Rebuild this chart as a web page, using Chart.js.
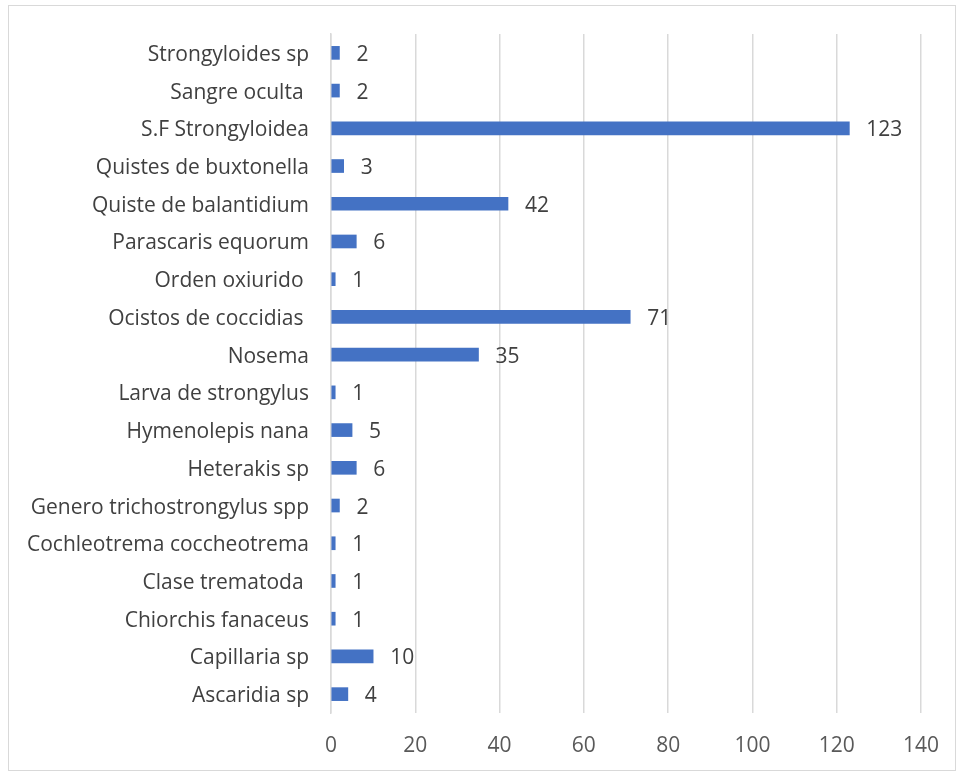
<!DOCTYPE html>
<html lang="es">
<head>
<meta charset="UTF-8">
<title>Parásitos</title>
<script src="https://cdn.jsdelivr.net/npm/chart.js"></script>
<style>
    body { margin: 0; background: #fff; }
    .frame {
        position: absolute;
        left: 8px;
        top: 5px;
        width: 946px;
        height: 764px;
        border: 1px solid #d9d9d9;
    }
</style>
</head>
<body>
<div class="frame"><canvas id="chart"></canvas></div>
<script>
    // de arriba hacia abajo, como en el gráfico
    const categorias = [
        'Strongyloides sp', 'Sangre oculta ', 'S.F Strongyloidea', 'Quistes de buxtonella',
        'Quiste de balantidium', 'Parascaris equorum', 'Orden oxiurido ', 'Ocistos de coccidias ',
        'Nosema', 'Larva de strongylus', 'Hymenolepis nana', 'Heterakis sp',
        'Genero trichostrongylus spp', 'Cochleotrema coccheotrema', 'Clase trematoda ',
        'Chiorchis fanaceus', 'Capillaria sp', 'Ascaridia sp'
    ];
    const valores = [2, 2, 123, 3, 42, 6, 1, 71, 35, 1, 5, 6, 2, 1, 1, 1, 10, 4];
    const ticksX = [0, 20, 40, 60, 80, 100, 120, 140];

    const fuente = '"Open Sans", sans-serif';

    const etiquetas = {
        id: 'etiquetas',
        afterDatasetsDraw(chart) {
            const ctx = chart.ctx;
            const meta = chart.getDatasetMeta(0);
            ctx.save();
            ctx.font = '21px ' + fuente;
            ctx.fillStyle = '#404040';
            ctx.textAlign = 'left';
            ctx.textBaseline = 'middle';
            meta.data.forEach((bar, i) => {
                ctx.fillText(String(valores[i]), bar.x + 17, bar.y + 2);
            });
            ctx.restore();
        }
    };

    new Chart(document.getElementById('chart'), {
        type: 'bar',
        data: {
            labels: categorias,
            datasets: [{
                data: valores,
                backgroundColor: '#4472c4',
                barThickness: 13
            }]
        },
        options: {
            indexAxis: 'y',
            responsive: true,
            maintainAspectRatio: false,
            animation: false,
            layout: { padding: { left: 0, top: 28, right: 34, bottom: 0 } },
            plugins: {
                legend: { display: false },
                tooltip: { enabled: false }
            },
            scales: {
                x: {
                    min: 0,
                    max: 140,
                    afterBuildTicks: (axis) => { axis.ticks = ticksX.map(v => ({ value: v })); },
                    afterFit: (axis) => {
                        axis.height = 57;
                        axis.paddingLeft = 0;
                        axis.paddingRight = 0;
                    },
                    grid: { color: '#d9d9d9', lineWidth: 1.5, drawTicks: false },
                    border: { display: false },
                    ticks: { color: '#595959', font: { family: fuente, size: 21 }, padding: 20 }
                },
                y: {
                    afterFit: (axis) => {
                        axis.width = 322;
                        axis.paddingTop = 0;
                        axis.paddingBottom = 0;
                    },
                    grid: { display: false, drawTicks: false },
                    border: { display: true, color: '#d9d9d9', width: 1.5 },
                    ticks: { color: '#404040', font: { family: fuente, size: 21 }, padding: 22, labelOffset: 2, autoSkip: false }
                }
            }
        },
        plugins: [etiquetas]
    });
</script>
</body>
</html>
